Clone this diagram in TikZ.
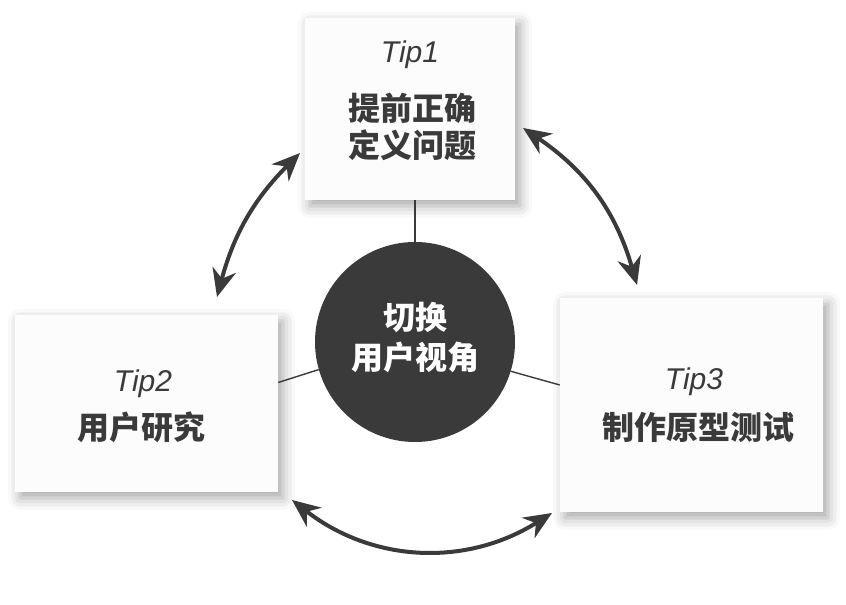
\documentclass[tikz,border=0pt]{standalone}
\usepackage{fontspec}
\setsansfont{Liberation Sans}
\newfontfamily\cjk{Noto Sans CJK SC}
\usetikzlibrary{arrows.meta,shadows.blur}
\definecolor{ink}{HTML}{3A3A3A}
\definecolor{paper}{HTML}{FCFCFC}

\begin{document}
\begin{tikzpicture}[
  x=1pt,y=1pt,
  tipbox/.style={rectangle,fill=paper,inner sep=0pt,
    blur shadow={shadow xshift=5pt,shadow yshift=-6pt,shadow blur radius=12pt,shadow opacity=35}},
  hub/.style={circle,fill=ink,minimum size=200pt,inner sep=0pt},
  tiptitle/.style={anchor=base,text=ink,font=\sffamily\itshape\fontsize{30}{36}\selectfont},
  tiptext/.style={align=center,text=ink,font=\cjk\bfseries\fontsize{32}{37}\selectfont},
  link/.style={draw=ink,line width=1.4pt},
  swap/.style={draw=ink,line width=4pt,
    {Stealth[length=28pt,width=24pt,inset=9pt]}-{Stealth[length=28pt,width=24pt,inset=9pt]}}
]
\useasboundingbox (0,0) rectangle (846,605);

% the three tips
\node[tipbox,minimum width=210pt,minimum height=182pt] (tip1) at (410,496) {};
\node[tipbox,minimum width=263pt,minimum height=177pt] (tip2) at (146.5,201.5) {};
\node[tipbox,minimum width=263pt,minimum height=214pt] (tip3) at (691.5,200) {};

% centre
\node[hub] (view) at (415,263) {};
\draw[link] (view.north) -- (view.north |- tip1.south);
\draw[link] (view.196) -- ([yshift=21pt]tip2.east);
\draw[link] (view.-17) -- ([yshift=20pt]tip3.west);

\node[tiptitle] (t1) at (410,542) {Tip1};
\node[tiptext] (d1) at (412,478) {提前正确\\定义问题};
\node[tiptitle] (t2) at (143,213) {Tip2};
\node[tiptext] (d2) at (141,177.5) {用户研究};
\node[tiptitle] (t3) at (694,215) {Tip3};
\node[tiptext] (d3) at (698,177.5) {制作原型测试};
\node[tiptext,text=white,font=\cjk\bfseries\fontsize{32}{40}\selectfont] (dv) at (415,267.5) {切换\\用户视角};

% arrows between tips
\coordinate (a1s) at (217,308);
\coordinate (a1e) at (300,452);
\coordinate (a2s) at (523,477);
\coordinate (a2e) at (637,320);
\coordinate (a3s) at (292,105);
\coordinate (a3e) at (552,92);
\draw[swap] (a1s) to[bend left=15] (a1e);
\draw[swap] (a2s) to[bend left=20] (a2e);
\draw[swap] (a3s) to[bend right=35] (a3e);
\end{tikzpicture}
\end{document}
